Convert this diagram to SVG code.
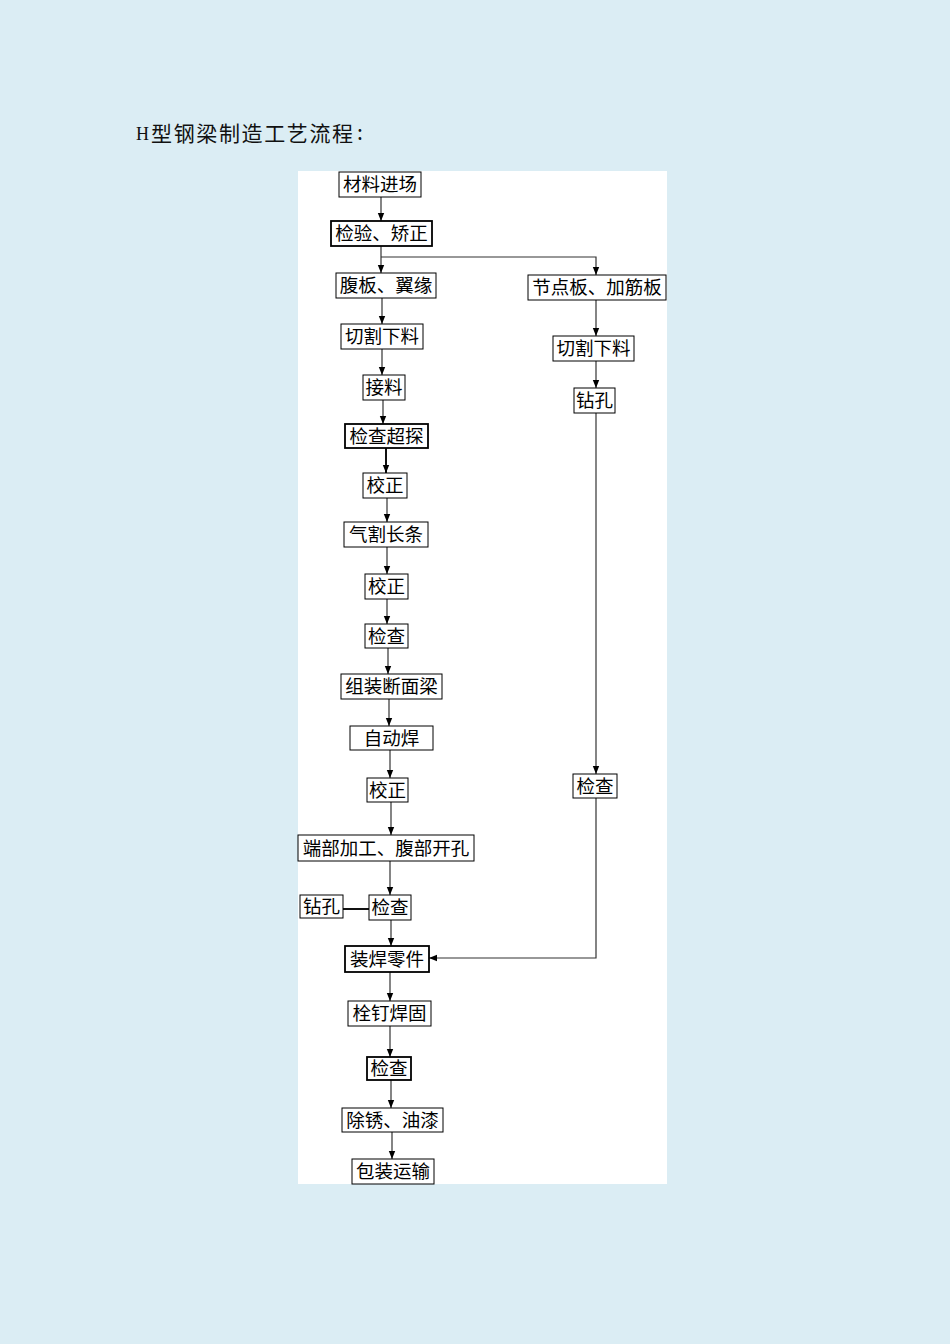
<svg xmlns="http://www.w3.org/2000/svg" width="950" height="1344" viewBox="0 0 950 1344">
<style>
.bx{fill:#fff;stroke:#000;stroke-width:1}
.bk{fill:#fff;stroke:#000;stroke-width:1.8}
.t{font-family:"Noto Sans CJK SC","Noto Sans CJK JP",sans-serif;font-size:18.5px;fill:#000;text-anchor:middle}
.ttl{font-family:"Noto Sans CJK SC","Noto Sans CJK JP",sans-serif;font-size:21px;fill:#111}
.ttlh{font-family:"Liberation Serif","DejaVu Serif",serif;font-size:18px;fill:#111}
.ln{fill:none;stroke:#333;stroke-width:1.2}
.lk{fill:none;stroke:#111;stroke-width:2}
</style>
<defs>
<marker id="ar" markerUnits="userSpaceOnUse" markerWidth="8" markerHeight="8" viewBox="0 0 8 8" refX="8" refY="4" orient="auto">
<path d="M0,0.8 L8,4 L0,7.2 Z" fill="#000"/>
</marker>
</defs>
<rect width="950" height="1344" fill="#dbedf4"/>
<rect x="298" y="171" width="369" height="1013" fill="#fff"/>
<g id="title">
<text class="ttlh" x="136" y="140">H</text>
<text class="ttl" x="151" y="141" textLength="202" lengthAdjust="spacing">型钢梁制造工艺流程</text>
<text class="ttl" x="357" y="140">:</text>
</g>
<g id="connectors">
<path class="ln" d="M381,197 V221" marker-end="url(#ar)"/>
<path class="ln" d="M381,246 V273" marker-end="url(#ar)"/>
<path class="ln" d="M381,257 H596 V275" marker-end="url(#ar)"/>
<path class="ln" d="M382,298 V324" marker-end="url(#ar)"/>
<path class="ln" d="M382,349 V375" marker-end="url(#ar)"/>
<path class="ln" d="M383,400 V424" marker-end="url(#ar)"/>
<path class="lk" d="M386,448 V473" marker-end="url(#ar)"/>
<path class="ln" d="M387,498 V522" marker-end="url(#ar)"/>
<path class="ln" d="M387,547 V574" marker-end="url(#ar)"/>
<path class="ln" d="M387,599 V624" marker-end="url(#ar)"/>
<path class="ln" d="M388,648 V674" marker-end="url(#ar)"/>
<path class="ln" d="M389,699 V726" marker-end="url(#ar)"/>
<path class="ln" d="M390,750 V778" marker-end="url(#ar)"/>
<path class="ln" d="M391,802 V835" marker-end="url(#ar)"/>
<path class="ln" d="M390,861 V895" marker-end="url(#ar)"/>
<path class="ln" d="M391,920 V946" marker-end="url(#ar)"/>
<path class="lk" d="M343,909 H369"/>
<path class="ln" d="M596,300 V336" marker-end="url(#ar)"/>
<path class="ln" d="M596,361 V388" marker-end="url(#ar)"/>
<path class="ln" d="M596,413 V774" marker-end="url(#ar)"/>
<path class="ln" d="M596,798 V958 H429" marker-end="url(#ar)"/>
<path class="ln" d="M390,972 V1001" marker-end="url(#ar)"/>
<path class="ln" d="M390,1026 V1057" marker-end="url(#ar)"/>
<path class="ln" d="M391,1080 V1108" marker-end="url(#ar)"/>
<path class="ln" d="M392,1132 V1159" marker-end="url(#ar)"/>
</g>
<g id="n1"><rect class="bx" x="339" y="172" width="82" height="25"/><text class="t" x="380" y="191">材料进场</text></g>
<g id="n2"><rect class="bk" x="331" y="221" width="101" height="25"/><text class="t" x="381.5" y="240">检验、矫正</text></g>
<g id="n3"><rect class="bx" x="336" y="273" width="100" height="25"/><text class="t" x="386" y="292">腹板、翼缘</text></g>
<g id="n4"><rect class="bx" x="528" y="275" width="138" height="25"/><text class="t" x="597" y="294">节点板、加筋板</text></g>
<g id="n5"><rect class="bx" x="341" y="324" width="82" height="25"/><text class="t" x="382" y="343">切割下料</text></g>
<g id="n6"><rect class="bx" x="553" y="336" width="81" height="25"/><text class="t" x="593.5" y="355">切割下料</text></g>
<g id="n7"><rect class="bx" x="363" y="375" width="42" height="25"/><text class="t" x="384" y="394">接料</text></g>
<g id="n8"><rect class="bx" x="574" y="388" width="41" height="25"/><text class="t" x="594.5" y="407">钻孔</text></g>
<g id="n9"><rect class="bk" x="345" y="424" width="83" height="24"/><text class="t" x="386.5" y="442.5">检查超探</text></g>
<g id="n10"><rect class="bx" x="363" y="473" width="44" height="25"/><text class="t" x="385" y="492">校正</text></g>
<g id="n11"><rect class="bx" x="344" y="522" width="84" height="25"/><text class="t" x="386" y="541">气割长条</text></g>
<g id="n12"><rect class="bx" x="365" y="574" width="43" height="25"/><text class="t" x="386.5" y="593">校正</text></g>
<g id="n13"><rect class="bx" x="365" y="624" width="43" height="24"/><text class="t" x="386.5" y="642.5">检查</text></g>
<g id="n14"><rect class="bx" x="341" y="674" width="101" height="25"/><text class="t" x="391.5" y="693">组装断面梁</text></g>
<g id="n15"><rect class="bx" x="350" y="726" width="83" height="24"/><text class="t" x="391.5" y="744.5">自动焊</text></g>
<g id="n16"><rect class="bx" x="367" y="778" width="41" height="24"/><text class="t" x="387.5" y="796.5">校正</text></g>
<g id="n17"><rect class="bx" x="298" y="835" width="176" height="26"/><text class="t" x="386" y="854.5">端部加工、腹部开孔</text></g>
<g id="n18"><rect class="bx" x="300" y="895" width="43" height="23"/><text class="t" x="321.5" y="913">钻孔</text></g>
<g id="n19"><rect class="bx" x="369" y="895" width="42" height="25"/><text class="t" x="390" y="914">检查</text></g>
<g id="n20"><rect class="bk" x="345" y="946" width="84" height="26"/><text class="t" x="387" y="965.5">装焊零件</text></g>
<g id="n21"><rect class="bx" x="573" y="774" width="44" height="24"/><text class="t" x="595" y="792.5">检查</text></g>
<g id="n22"><rect class="bx" x="348" y="1001" width="83" height="25"/><text class="t" x="389.5" y="1020">栓钉焊固</text></g>
<g id="n23"><rect class="bk" x="367" y="1057" width="44" height="23"/><text class="t" x="389" y="1075">检查</text></g>
<g id="n24"><rect class="bx" x="342" y="1108" width="101" height="24"/><text class="t" x="392.5" y="1126.5">除锈、油漆</text></g>
<g id="n25"><rect class="bx" x="352" y="1159" width="82" height="25"/><text class="t" x="393" y="1178">包装运输</text></g>
</svg>
